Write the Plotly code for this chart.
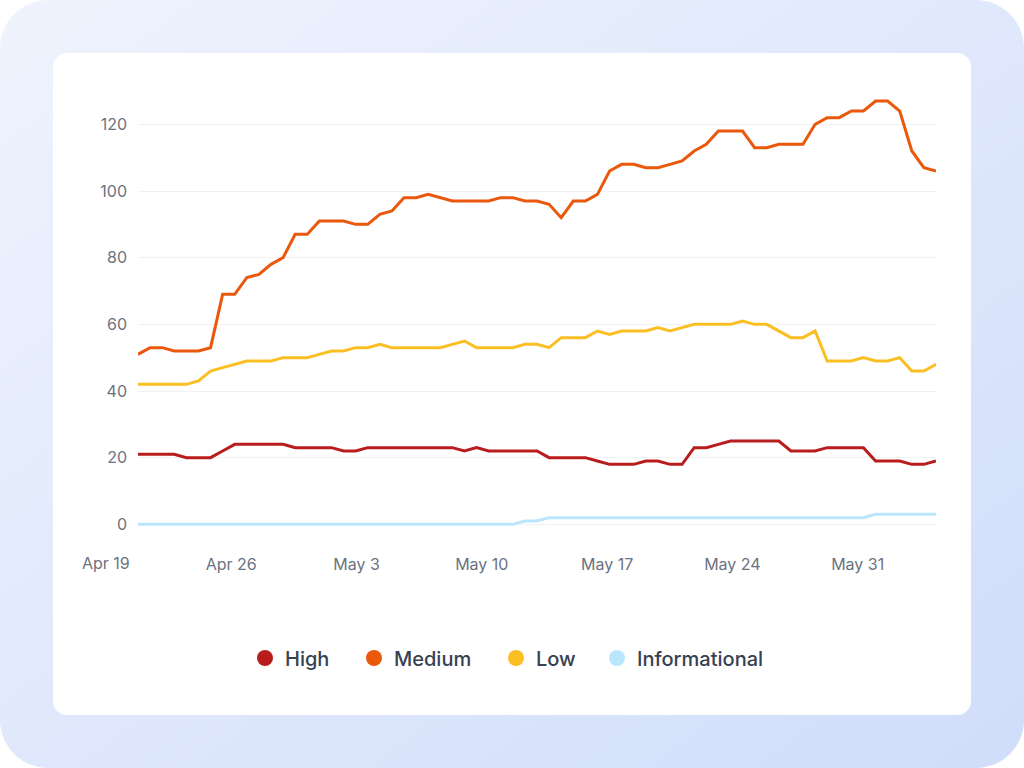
import base64
import pandas as pd
import plotly.graph_objects as go

# ---------------- data ----------------
HIGH = [21, 21, 21, 21, 20, 20, 20, 22, 24, 24, 24, 24, 24, 23, 23, 23, 23, 22, 22,
        23, 23, 23, 23, 23, 23, 23, 23, 22, 23, 22, 22, 22, 22, 22, 20, 20, 20, 20,
        19, 18, 18, 18, 19, 19, 18, 18, 23, 23, 24, 25, 25, 25, 25, 25, 22, 22, 22,
        23, 23, 23, 23, 19, 19, 19, 18, 18, 19]
MEDIUM = [51, 53, 53, 52, 52, 52, 53, 69, 69, 74, 75, 78, 80, 87, 87, 91, 91, 91, 90,
          90, 93, 94, 98, 98, 99, 98, 97, 97, 97, 97, 98, 98, 97, 97, 96, 92, 97, 97,
          99, 106, 108, 108, 107, 107, 108, 109, 112, 114, 118, 118, 118, 113, 113,
          114, 114, 114, 120, 122, 122, 124, 124, 127, 127, 124, 112, 107, 106]
LOW = [42, 42, 42, 42, 42, 43, 46, 47, 48, 49, 49, 49, 50, 50, 50, 51, 52, 52, 53, 53,
       54, 53, 53, 53, 53, 53, 54, 55, 53, 53, 53, 53, 54, 54, 53, 56, 56, 56, 58, 57,
       58, 58, 58, 59, 58, 59, 60, 60, 60, 60, 61, 60, 60, 58, 56, 56, 58, 49, 49, 49,
       50, 49, 49, 50, 46, 46, 48]
INFORMATIONAL = [0] * 32 + [1, 1] + [2] * 27 + [3] * 6

SERIES_NAMES = ["High", "Medium", "Low", "Informational"]
SERIES_COLORS = ["#B91C1C", "#EA580C", "#FBBF24", "#BAE6FD"]

START = "2024-04-20 19:00"
END = "2024-06-04 09:00"

X_TICK_DATES = ["2024-04-19", "2024-04-26", "2024-05-03", "2024-05-10",
                "2024-05-17", "2024-05-24", "2024-05-31"]
X_TICK_LABELS = ["Apr 19", "Apr 26", "May 3", "May 10", "May 17", "May 24", "May 31"]
Y_TICKS = [0, 20, 40, 60, 80, 100, 120]

# ---------------- layout geometry ----------------
W, H = 1024, 768
ML, MR, MT, MB = 138, 88, 91, 237
PW, PH = W - ML - MR, H - MT - MB
LEGEND_DOT_X = [265, 374, 516, 617]   # pixel centre of each legend dot
LEGEND_Y = 658

FONT = "Inter, Roboto, 'Noto Sans', sans-serif"
TICK_COLOR = "#6B7280"

dates = pd.date_range(START, END, periods=len(HIGH))
series = [HIGH, MEDIUM, LOW, INFORMATIONAL]
legend_ids = ["legend", "legend2", "legend3", "legend4"]

fig = go.Figure()
for name, color, vals in zip(SERIES_NAMES, SERIES_COLORS, series):
    fig.add_trace(go.Scatter(x=dates, y=vals, mode="lines", name=name,
                             line=dict(color=color, width=3),
                             showlegend=False, hoverinfo="x+y+name"))
# legend entries as round dots
for name, color, lid in zip(SERIES_NAMES, SERIES_COLORS, legend_ids):
    fig.add_trace(go.Scatter(x=[None], y=[None], mode="markers", name=name,
                             marker=dict(size=16, color=color, symbol="circle"),
                             showlegend=True, legend=lid))

svg = f'''<svg xmlns="http://www.w3.org/2000/svg" width="{W}" height="{H}" viewBox="0 0 {W} {H}">
<defs><linearGradient id="g" x1="0" y1="0" x2="1" y2="1">
<stop offset="0" stop-color="#EFF3FD"/><stop offset="1" stop-color="#D0DDFA"/></linearGradient></defs>
<rect x="0" y="0" width="{W}" height="{H}" rx="48" ry="48" fill="url(#g)"/>
<rect x="53" y="53" width="918" height="662" rx="14" ry="14" fill="#FFFFFF"/>
</svg>'''
svg_uri = "data:image/svg+xml;base64," + base64.b64encode(svg.encode()).decode()

fig.add_layout_image(dict(
    source=svg_uri, xref="paper", yref="paper",
    x=-ML / PW, y=1 + MT / PH, sizex=W / PW, sizey=H / PH,
    xanchor="left", yanchor="top", sizing="stretch", layer="below", opacity=1))

# first tick label lies left of the data range: place it at its date's fraction of the axis
t0, t1 = dates[0], dates[-1]
first_frac = (pd.Timestamp(X_TICK_DATES[0]) - t0) / (t1 - t0)
fig.add_annotation(x=first_frac, xref="paper", y=-(563 - (H - MB)) / PH, yref="paper",
                   text=X_TICK_LABELS[0], showarrow=False, xanchor="center", yanchor="middle",
                   font=dict(family=FONT, size=16, color=TICK_COLOR))

legend_common = dict(orientation="h", xanchor="left", yanchor="middle",
                     y=-(LEGEND_Y - (H - MB)) / PH,
                     font=dict(family=FONT, size=20, color="#374151", weight=500),
                     bgcolor="rgba(0,0,0,0)", borderwidth=0,
                     itemclick=False, itemdoubleclick=False)
legends = {}
for lid, dx in zip(legend_ids, LEGEND_DOT_X):
    legends[lid] = dict(legend_common, x=(dx - 20 - ML) / PW)

fig.update_layout(
    width=W, height=H,
    margin=dict(l=ML, r=MR, t=MT, b=MB, pad=0),
    paper_bgcolor="#FFFFFF", plot_bgcolor="rgba(0,0,0,0)",
    font=dict(family=FONT, size=16, color=TICK_COLOR),
    showlegend=True,
    xaxis=dict(type="date", range=[t0, t1],
               tickvals=X_TICK_DATES, ticktext=X_TICK_LABELS,
               showgrid=False, zeroline=False, showline=False, ticks="",
               ticklabelstandoff=22,
               tickfont=dict(family=FONT, size=16, color=TICK_COLOR)),
    yaxis=dict(range=[-2, 130], tickvals=Y_TICKS, showgrid=True,
               gridcolor="#F0F1F3", gridwidth=1, zeroline=False, showline=False,
               ticks="", ticklabelstandoff=10,
               tickfont=dict(family=FONT, size=16, color=TICK_COLOR)),
    hovermode="x unified",
    **legends,
)

fig.write_html("out.html")
